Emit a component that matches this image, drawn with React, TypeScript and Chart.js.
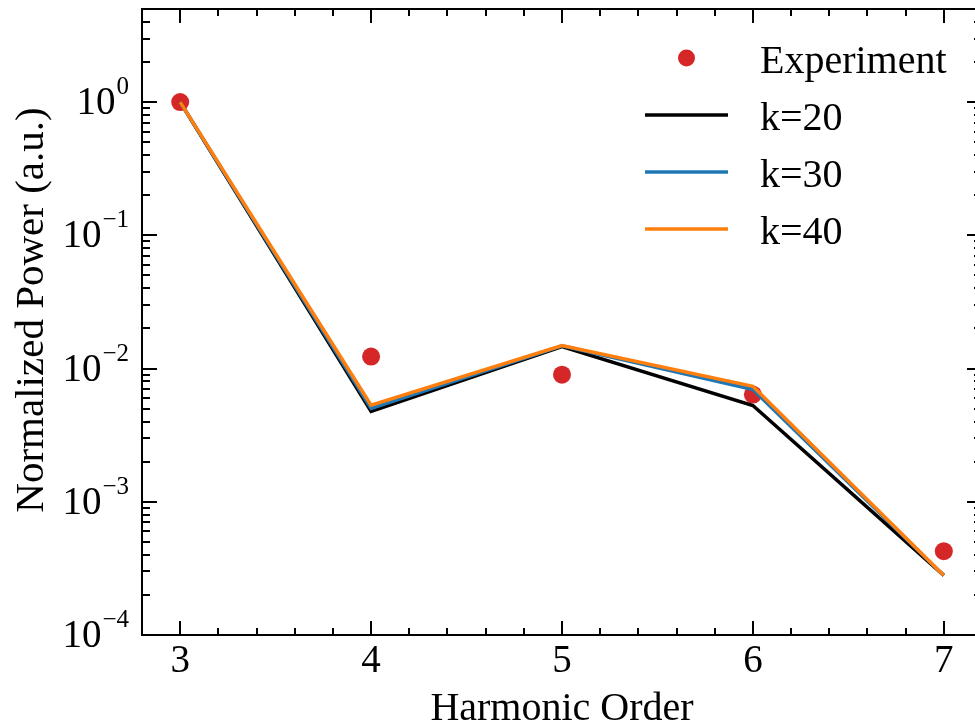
import React, { useEffect, useRef } from "react";
import { Chart, registerables } from "chart.js";

Chart.register(...registerables);

// ---- data ----
const harmonics = [3, 4, 5, 6, 7];
const experiment = [1.0, 0.0123, 0.009, 0.00638, 4.26e-4];
const k20 = [1.0, 0.00476, 0.0146, 0.00528, 2.8e-4];
const k30 = [1.0, 0.00503, 0.0148, 0.00697, 2.8e-4];
const k40 = [1.0, 0.0053, 0.0149, 0.00735, 2.8e-4];
const seriesLabels = ["Experiment", "k=20", "k=30", "k=40"];
const seriesColors = ["#d62728", "#000000", "#1f77b4", "#ff7f0e"];
const xTickValues = [3, 4, 5, 6, 7];
const yDecades = [0, -1, -2, -3, -4];
const xTitle = "Harmonic Order";
const yTitle = "Normalized Power (a.u.)";

const FONT = '"Liberation Serif", "Times New Roman", serif';

const toPoints = (ys: number[]) => harmonics.map((x, i) => ({ x, y: ys[i] }));

const framePlugin = {
  id: "frame",
  afterDraw(chart: any) {
    const ctx: CanvasRenderingContext2D = chart.ctx;
    const { left, right, top, bottom } = chart.chartArea;
    const xs = chart.scales.x;
    const ys = chart.scales.y;
    ctx.save();
    ctx.strokeStyle = "#000";
    ctx.lineWidth = 2;
    ctx.strokeRect(left, top, right - left, bottom - top);

    // x ticks (bottom & top), inward
    for (let i = 0; i <= 22; i++) {
      const v = 2.8 + i * 0.2;
      const major = Math.abs(v - Math.round(v)) < 1e-6;
      const len = major ? 14 : 7;
      const px = Math.round(xs.getPixelForValue(v));
      ctx.beginPath();
      ctx.moveTo(px, bottom);
      ctx.lineTo(px, bottom - len);
      ctx.moveTo(px, top);
      ctx.lineTo(px, top + len);
      ctx.stroke();
    }
    // y ticks (left & right), inward
    for (const d of yDecades) {
      for (let m = 1; m <= 9; m++) {
        const v = m * Math.pow(10, d);
        if (v > ys.max * 1.0001) continue;
        const major = m === 1;
        const len = major ? 15 : 8;
        const py = Math.round(ys.getPixelForValue(v));
        ctx.beginPath();
        ctx.moveTo(left, py);
        ctx.lineTo(left + len, py);
        ctx.moveTo(right, py);
        ctx.lineTo(right - len, py);
        ctx.stroke();
      }
    }

    ctx.fillStyle = "#000";
    // x tick labels
    ctx.font = `39px ${FONT}`;
    ctx.textAlign = "center";
    ctx.textBaseline = "alphabetic";
    for (const v of xTickValues) {
      ctx.fillText(String(v), xs.getPixelForValue(v), bottom + 37);
    }
    // y tick labels 10^d
    for (const d of yDecades) {
      const py = ys.getPixelForValue(Math.pow(10, d));
      const sup = d === 0 ? "0" : "\u2212" + String(-d);
      ctx.font = `25px ${FONT}`;
      const wSup = ctx.measureText(sup).width;
      ctx.font = `39px ${FONT}`;
      const wBase = ctx.measureText("10").width;
      const xRight = left - 13;
      ctx.textAlign = "left";
      ctx.fillText("10", xRight - wSup - wBase - 1, py + 12);
      ctx.font = `25px ${FONT}`;
      ctx.fillText(sup, xRight - wSup, py - 8);
    }
    // axis titles
    ctx.font = `40px ${FONT}`;
    ctx.textAlign = "center";
    ctx.fillText(xTitle, xs.getPixelForValue(5), bottom + 85);
    ctx.save();
    ctx.translate(43, (top + bottom) / 2 - 12);
    ctx.rotate(-Math.PI / 2);
    ctx.font = `41px ${FONT}`;
    ctx.fillText(yTitle, 0, 0);
    ctx.restore();

    // legend
    const legX0 = 645;
    const legX1 = 728;
    const textX = 760;
    const rowY = [58, 115, 172, 229];
    ctx.font = `40px ${FONT}`;
    ctx.textAlign = "left";
    seriesLabels.forEach((lab, i) => {
      const y = rowY[i];
      if (i === 0) {
        ctx.fillStyle = seriesColors[0];
        ctx.beginPath();
        ctx.arc((legX0 + legX1) / 2, y, 8.5, 0, Math.PI * 2);
        ctx.fill();
      } else {
        ctx.strokeStyle = seriesColors[i];
        ctx.lineWidth = 3.5;
        ctx.beginPath();
        ctx.moveTo(legX0, y);
        ctx.lineTo(legX1, y);
        ctx.stroke();
      }
      ctx.fillStyle = "#000";
      ctx.fillText(lab, textX, y + 15);
    });
    ctx.restore();
  },
};

export default function App() {
  const ref = useRef<HTMLCanvasElement | null>(null);
  useEffect(() => {
    document.body.style.margin = "0";
    const canvas = ref.current!;
    const chart = new Chart(canvas, {
      type: "line",
      data: {
        datasets: [
          {
            label: seriesLabels[0],
            data: toPoints(experiment),
            showLine: false,
            pointRadius: 9,
            pointBackgroundColor: seriesColors[0],
            pointBorderWidth: 0,
            borderColor: seriesColors[0],
            backgroundColor: seriesColors[0],
            order: 4,
          },
          {
            label: seriesLabels[1],
            data: toPoints(k20),
            borderColor: seriesColors[1],
            borderWidth: 3.5,
            pointRadius: 0,
            fill: false,
            order: 3,
          },
          {
            label: seriesLabels[2],
            data: toPoints(k30),
            borderColor: seriesColors[2],
            borderWidth: 3.5,
            pointRadius: 0,
            fill: false,
            order: 2,
          },
          {
            label: seriesLabels[3],
            data: toPoints(k40),
            borderColor: seriesColors[3],
            borderWidth: 3.5,
            pointRadius: 0,
            fill: false,
            order: 1,
          },
        ],
      },
      options: {
        animation: false,
        responsive: false,
        devicePixelRatio: 1,
        layout: { padding: { left: 142, right: 18, top: 8, bottom: 90 } },
        plugins: { legend: { display: false }, tooltip: { enabled: false } },
        scales: {
          x: { type: "linear", min: 2.8, max: 7.2, display: false },
          y: { type: "logarithmic", min: 1e-4, max: 5, display: false },
        },
      },
      plugins: [framePlugin],
    });
    return () => chart.destroy();
  }, []);
  return (
    <div style={{ position: "absolute", left: 0, top: 0, width: 975, height: 725, overflow: "hidden", background: "#fff" }}>
      <canvas ref={ref} width={1000} height={725} style={{ display: "block" }} />
    </div>
  );
}
